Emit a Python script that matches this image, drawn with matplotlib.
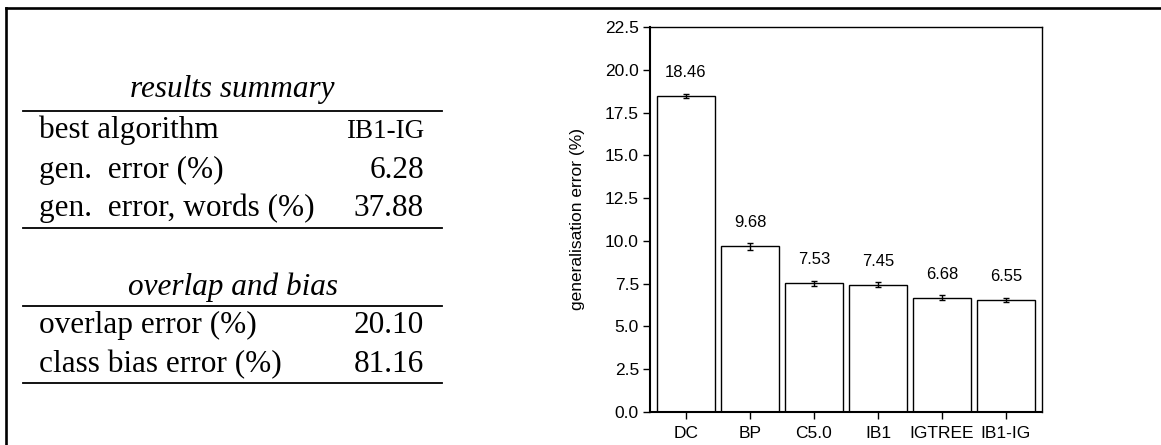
import numpy as np
import matplotlib
matplotlib.use("Agg")
import matplotlib.pyplot as plt
from matplotlib.lines import Line2D

W, H = 1161, 445

# Generalisation error per algorithm
algorithms = ["DC", "BP", "C5.0", "IB1", "IGTREE", "IB1-IG"]
gen_error = [18.46, 9.68, 7.53, 7.45, 6.68, 6.55]
gen_error_ci = [0.10, 0.20, 0.15, 0.13, 0.14, 0.13]

# Summary table contents
summary_rows = [("best algorithm", "IB1-IG"),
                ("gen.  error (%)", "6.28"),
                ("gen.  error, words (%)", "37.88")]
bias_rows = [("overlap error (%)", "20.10"),
             ("class bias error (%)", "81.16")]


def fx(px):
    return px / W


def fy(py):
    return 1 - py / H


fig = plt.figure(figsize=(W / 100, H / 100), dpi=100)

# frame lines along the top and left edge
fig.add_artist(Line2D([fx(6), fx(W + 5)], [fy(8), fy(8)], color="black", lw=1.9))
fig.add_artist(Line2D([fx(6), fx(6)], [fy(8), fy(H + 5)], color="black", lw=1.9))

# --- table on the left ---
serif = "Liberation Serif"
fs = 22.5
x_left, x_right = 39, 424
line_x0, line_x1 = 23, 442


def hline(py):
    fig.add_artist(Line2D([fx(line_x0), fx(line_x1)], [fy(py), fy(py)],
                          color="black", lw=1.3))


def heading(text, py):
    fig.text(fx((line_x0 + line_x1) / 2), fy(py), text, family=serif,
             style="italic", fontsize=fs, ha="center", va="baseline")


def rows(items, baselines):
    for (label, value), py in zip(items, baselines):
        fig.text(fx(x_left), fy(py), label, family=serif, fontsize=fs,
                 ha="left", va="baseline")
        small = value.isalpha() or "-" in value
        fig.text(fx(x_right), fy(py), value, family=serif,
                 fontsize=19.5 if small else fs, ha="right", va="baseline")


heading("results summary", 97)
hline(111)
rows(summary_rows, [138, 178, 216])
hline(228)
heading("overlap and bias", 295)
hline(306)
rows(bias_rows, [333, 372])
hline(383)

# --- bar chart on the right ---
plt.rcParams["font.family"] = ["Liberation Sans", "DejaVu Sans"]
ax = fig.add_axes([fx(650), fy(412), fx(1042) - fx(650), fy(27) - fy(412)])
x = np.arange(len(algorithms))
ax.bar(x, gen_error, width=0.92, color="white", edgecolor="black", linewidth=1)
ax.errorbar(x, gen_error, yerr=gen_error_ci, fmt="none", ecolor="black",
            elinewidth=1, capsize=2.5, capthick=1)
for xi, v in zip(x, gen_error):
    ax.annotate(f"{v:.2f}", (xi, v), xytext=(0, 19), textcoords="offset pixels",
                ha="center", va="baseline", fontsize=12)

ax.set_xlim(-0.5625, len(algorithms) - 1 + 0.5625)
ax.set_ylim(0, 22.5)
ax.set_yticks(np.arange(0, 22.6, 2.5))
ax.set_yticklabels([f"{t:.1f}" for t in np.arange(0, 22.6, 2.5)])
ax.set_xticks(x)
ax.set_xticklabels(algorithms)
ax.tick_params(direction="out", length=5, width=1, labelsize=12.5, pad=3)
ax.tick_params(axis="x", pad=5)
ax.set_ylabel("generalisation error (%)", fontsize=12.5, labelpad=14)
ax.spines["left"].set_linewidth(1.5)
ax.spines["bottom"].set_linewidth(1.5)
ax.spines["top"].set_linewidth(1)
ax.spines["right"].set_linewidth(1)

fig.savefig("out.png", dpi=100)
